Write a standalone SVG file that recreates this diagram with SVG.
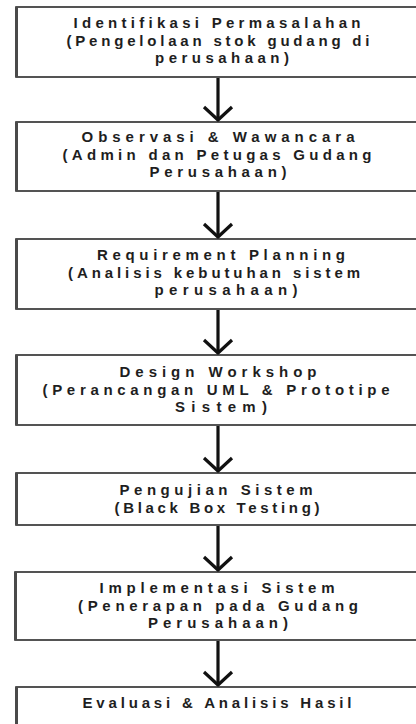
<svg xmlns="http://www.w3.org/2000/svg" width="416" height="724" viewBox="0 0 416 724">
  <style>
    .box { fill: #ffffff; stroke: #2a2a2a; stroke-width: 1.6; }
    .edge { stroke: #4a4a4a; stroke-width: 3; }
    .lbl { font-family: "Liberation Sans", Arial, sans-serif; font-weight: bold; font-size: 15px; fill: #1e1e1e; text-anchor: middle; }
    .shaft { stroke: #111111; stroke-width: 3.2; fill: none; }
    .head { stroke: #111111; stroke-width: 3.2; fill: none; stroke-linejoin: miter; }
  </style>
  <rect width="416" height="724" fill="#ffffff"/>

  <g id="connectors">
    <line class="shaft" x1="218" y1="78" x2="218" y2="119"/>
    <polyline class="head" points="204,107 218,120 232,107"/>
    <line class="shaft" x1="218" y1="192" x2="218" y2="236"/>
    <polyline class="head" points="204,224 218,237 232,224"/>
    <line class="shaft" x1="218" y1="310" x2="218" y2="352"/>
    <polyline class="head" points="204,340 218,353 232,340"/>
    <line class="shaft" x1="218" y1="426" x2="218" y2="470"/>
    <polyline class="head" points="204,458 218,471 232,458"/>
    <line class="shaft" x1="218" y1="526" x2="218" y2="569"/>
    <polyline class="head" points="204,557 218,570 232,557"/>
    <line class="shaft" x1="218" y1="641" x2="218" y2="684"/>
    <polyline class="head" points="204,672 218,685 232,672"/>
  </g>

  <g id="identifikasi">
    <rect class="box" x="16" y="7" width="404" height="70"/>
    <line class="edge" x1="16.5" y1="7" x2="16.5" y2="77"/>
    <text class="lbl" x="217" y="28" textLength="287" lengthAdjust="spacing">Identifikasi Permasalahan</text>
    <text class="lbl" x="218" y="45.5" textLength="303" lengthAdjust="spacing">(Pengelolaan stok gudang di</text>
    <text class="lbl" x="222" y="63" textLength="134" lengthAdjust="spacing">perusahaan)</text>
  </g>

  <g id="observasi">
    <rect class="box" x="16" y="122" width="404" height="69"/>
    <line class="edge" x1="16.5" y1="122" x2="16.5" y2="191"/>
    <text class="lbl" x="218" y="142" textLength="273" lengthAdjust="spacing">Observasi &amp; Wawancara</text>
    <text class="lbl" x="217" y="159.5" textLength="309" lengthAdjust="spacing">(Admin dan Petugas Gudang</text>
    <text class="lbl" x="218" y="177" textLength="137" lengthAdjust="spacing">Perusahaan)</text>
  </g>

  <g id="requirement">
    <rect class="box" x="16" y="239" width="404" height="70"/>
    <line class="edge" x1="16.5" y1="239" x2="16.5" y2="309"/>
    <text class="lbl" x="221" y="260" textLength="248" lengthAdjust="spacing">Requirement Planning</text>
    <text class="lbl" x="214" y="277.5" textLength="292" lengthAdjust="spacing">(Analisis kebutuhan sistem</text>
    <text class="lbl" x="226" y="295" textLength="143" lengthAdjust="spacing">perusahaan)</text>
  </g>

  <g id="design">
    <rect class="box" x="16" y="355" width="404" height="70"/>
    <line class="edge" x1="16.5" y1="355" x2="16.5" y2="425"/>
    <text class="lbl" x="218" y="377" textLength="197" lengthAdjust="spacing">Design Workshop</text>
    <text class="lbl" x="216" y="394.5" textLength="347" lengthAdjust="spacing">(Perancangan UML &amp; Prototipe</text>
    <text class="lbl" x="221" y="412" textLength="92" lengthAdjust="spacing">Sistem)</text>
  </g>

  <g id="pengujian">
    <rect class="box" x="16" y="473" width="404" height="52"/>
    <line class="edge" x1="16.5" y1="473" x2="16.5" y2="525"/>
    <text class="lbl" x="216" y="495" textLength="193" lengthAdjust="spacing">Pengujian Sistem</text>
    <text class="lbl" x="217" y="512.5" textLength="205" lengthAdjust="spacing">(Black Box Testing)</text>
  </g>

  <g id="implementasi">
    <rect class="box" x="15" y="572" width="405" height="68"/>
    <line class="edge" x1="15.5" y1="572" x2="15.5" y2="640"/>
    <text class="lbl" x="217" y="593" textLength="235" lengthAdjust="spacing">Implementasi Sistem</text>
    <text class="lbl" x="218" y="610.5" textLength="280" lengthAdjust="spacing">(Penerapan pada Gudang</text>
    <text class="lbl" x="218" y="628" textLength="140" lengthAdjust="spacing">Perusahaan)</text>
  </g>

  <g id="evaluasi">
    <rect class="box" x="16" y="687" width="404" height="60"/>
    <line class="edge" x1="16.5" y1="687" x2="16.5" y2="724"/>
    <text class="lbl" x="217" y="708" textLength="269" lengthAdjust="spacing">Evaluasi &amp; Analisis Hasil</text>
  </g>
</svg>
